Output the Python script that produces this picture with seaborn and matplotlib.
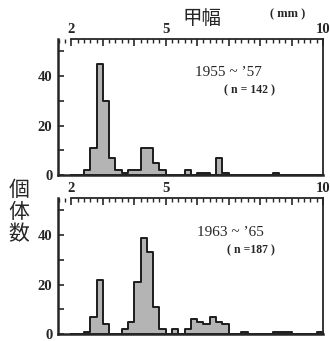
import numpy as np
import pandas as pd
import matplotlib
matplotlib.use('Agg')
import matplotlib.pyplot as plt
import seaborn as sns
from matplotlib.ticker import FixedLocator, MultipleLocator, FuncFormatter

# 甲幅 (mm) の階級（0.2mm 刻み, 下限値）と個体数
bins_5557 = [2.4, 2.6, 2.8, 3.0, 3.2, 3.4, 3.6, 3.8, 4.0, 4.2, 4.4, 4.6, 4.8,
             5.6, 6.0, 6.2, 6.6, 6.8, 8.4]
counts_5557 = [2, 11, 45, 30, 7, 2, 1, 2, 2, 11, 11, 5, 2,
               2, 1, 1, 7, 1, 1]

bins_6365 = [2.4, 2.6, 2.8, 3.0, 3.6, 3.8, 4.0, 4.2, 4.4, 4.6, 4.8, 5.2,
             5.6, 5.8, 6.0, 6.2, 6.4, 6.6, 6.8, 7.4, 8.4, 8.6, 8.8, 9.8]
counts_6365 = [1, 7, 22, 4, 2, 5, 21, 39, 33, 11, 2, 2,
               2, 6, 5, 4, 7, 5, 4, 1, 1, 1, 1, 1]

period_labels = ["1955 ~ ’57", "1963 ~ ’65"]
n_labels = ["( n = 142 )", "( n =187 )"]
x_ticklabels = {2: "2", 5: "5", 10: "10"}
y_ticklabels = [0, 20, 40]

edges = [round(k * 0.2, 1) for k in range(10, 51)]  # 2.0 ~ 10.0

sns.set_style("ticks")
plt.rcParams['font.family'] = ['Liberation Serif', 'Noto Sans CJK JP', 'DejaVu Sans']

W, H = 330, 341
fig = plt.figure(figsize=(W / 100, H / 100), dpi=100)

def px(x, y):
    return x / W, 1 - y / H

panels = [
    (bins_5557, counts_5557, 39, 0),
    (bins_6365, counts_6365, 198, 1),
]

for bins, counts, top_px, i in panels:
    ax = fig.add_axes([58 / W, 1 - (top_px + 136) / H, 265 / W, 136 / H])
    df = pd.DataFrame({'width': np.array(bins) + 0.1, 'n': counts})
    sns.histplot(data=df, x='width', weights='n', bins=edges, element='step',
                 fill=True, color='#b4b4b4', edgecolor='#1c1c1c', linewidth=1.4,
                 alpha=1, ax=ax)
    ax.set_xlim(1.575, 10)
    ax.set_ylim(0, 55)
    ax.set_xlabel('')
    ax.set_ylabel('')

    ax.xaxis.set_ticks_position('top')
    ax.xaxis.set_major_locator(FixedLocator(range(2, 11)))
    ax.xaxis.set_minor_locator(MultipleLocator(0.2))
    ax.xaxis.set_major_formatter(FuncFormatter(lambda v, p: x_ticklabels.get(int(round(v)), '')))
    ax.yaxis.set_major_locator(FixedLocator(y_ticklabels))
    ax.yaxis.set_minor_locator(MultipleLocator(10))
    ax.tick_params(axis='x', which='major', direction='in', length=5, width=1.2,
                   pad=2, labelsize=10.5)
    ax.tick_params(axis='x', which='minor', direction='in', length=3, width=1.0)
    ax.tick_params(axis='y', which='major', direction='in', length=4, width=1.2,
                   pad=4, labelsize=10.5)
    ax.tick_params(axis='y', which='minor', direction='in', length=4, width=1.2)
    for lab in ax.get_xticklabels() + ax.get_yticklabels():
        lab.set_fontweight('bold')
    for side in ['left', 'bottom']:
        ax.spines[side].set_linewidth(1.8)
    for side in ['top', 'right']:
        ax.spines[side].set_linewidth(1.3)
        ax.spines[side].set_visible(True)
    ax.spines['top'].set_bounds(2, 10)

    ty = 72 if i == 0 else 232
    fig.text(*px(195 if i == 0 else 197, ty), period_labels[i], fontsize=11,
             ha='left', va='center')
    fig.text(*px(224 if i == 0 else 227, ty + 18), n_labels[i], fontsize=8.5,
             fontweight='bold', ha='left', va='center')

fig.text(*px(202, 19), '甲幅', fontsize=14, ha='center', va='center',
         family=['Noto Sans CJK JP'])
fig.text(*px(288, 14), '( mm )', fontsize=9, fontweight='bold', ha='center', va='center')
fig.text(*px(19, 212), '個\n体\n数', fontsize=15, ha='center', va='center',
         linespacing=1.0, family=['Noto Sans CJK JP'])

fig.savefig('out.png', dpi=100)
